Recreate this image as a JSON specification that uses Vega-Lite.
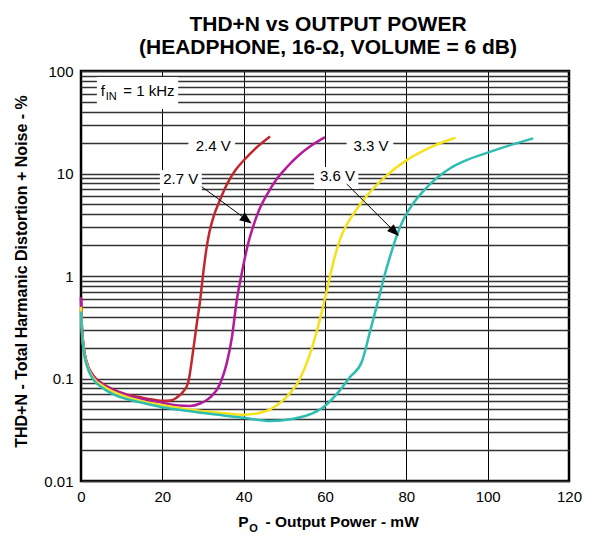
{
  "$schema": "https://vega.github.io/schema/vega-lite/v6.json",
  "width": 488,
  "height": 410,
  "autosize": {"type": "none"},
  "padding": {"left": 81, "top": 71, "right": 26, "bottom": 55},
  "background": "white",
  "config": {
    "view": {"stroke": "black", "strokeWidth": 2.5},
    "font": "Liberation Sans",
    "text": {"font": "Liberation Sans"}
  },
  "title": {
    "text": ["THD+N vs OUTPUT POWER", "(HEADPHONE, 16-Ω, VOLUME = 6 dB)"],
    "font": "Liberation Sans",
    "fontSize": 21,
    "fontWeight": "bold",
    "color": "black",
    "anchor": "middle",
    "frame": "group",
    "lineHeight": 22.7,
    "offset": 6,
    "dx": 3
  },
  "layer": [
    {
      "data": {"values": [{}]},
      "mark": {"type": "rect", "fill": "white", "stroke": null},
      "encoding": {
        "x": {"datum": 3.9, "type": "quantitative"},
        "x2": {"datum": 23.9},
        "y": {"datum": 42.6, "type": "quantitative"},
        "y2": {"datum": 87.4}
      }
    },
    {
      "data": {"values": [{}]},
      "mark": {"type": "rect", "fill": "white"},
      "encoding": {
        "x": {"datum": 26.4, "type": "quantitative"},
        "x2": {"datum": 37.9},
        "y": {"datum": 15.1, "type": "quantitative"},
        "y2": {"datum": 22.7}
      }
    },
    {
      "data": {"values": [{}]},
      "mark": {"type": "rect", "fill": "white"},
      "encoding": {
        "x": {"datum": 65.3, "type": "quantitative"},
        "x2": {"datum": 76.8},
        "y": {"datum": 15.1, "type": "quantitative"},
        "y2": {"datum": 22.7}
      }
    },
    {
      "data": {"values": [{}]},
      "mark": {"type": "rect", "fill": "white"},
      "encoding": {
        "x": {"datum": 19.4, "type": "quantitative"},
        "x2": {"datum": 29.7},
        "y": {"datum": 6.41, "type": "quantitative"},
        "y2": {"datum": 10.8}
      }
    },
    {
      "data": {"values": [{}]},
      "mark": {"type": "rect", "fill": "white"},
      "encoding": {
        "x": {"datum": 57.3, "type": "quantitative"},
        "x2": {"datum": 68.2},
        "y": {"datum": 7.06, "type": "quantitative"},
        "y2": {"datum": 11.6}
      }
    },
    {
      "data": {
        "values": [
          {"V": "2.4 V", "P": 0, "THD": 0.62}, {"V": "2.4 V", "P": 0.1, "THD": 0.42}, {"V": "2.4 V", "P": 0.6, "THD": 0.21}, {"V": "2.4 V", "P": 1.4, "THD": 0.145}, {"V": "2.4 V", "P": 3, "THD": 0.107}, {"V": "2.4 V", "P": 5.5, "THD": 0.088}, {"V": "2.4 V", "P": 8, "THD": 0.078}, {"V": "2.4 V", "P": 11.2, "THD": 0.07}, {"V": "2.4 V", "P": 15, "THD": 0.065}, {"V": "2.4 V", "P": 18, "THD": 0.062}, {"V": "2.4 V", "P": 20, "THD": 0.0605}, {"V": "2.4 V", "P": 22, "THD": 0.061}, {"V": "2.4 V", "P": 23.5, "THD": 0.065}, {"V": "2.4 V", "P": 25.2, "THD": 0.075}, {"V": "2.4 V", "P": 26.4, "THD": 0.093}, {"V": "2.4 V", "P": 27.6, "THD": 0.19}, {"V": "2.4 V", "P": 28.5, "THD": 0.35}, {"V": "2.4 V", "P": 29.3, "THD": 0.58}, {"V": "2.4 V", "P": 30.1, "THD": 1.1}, {"V": "2.4 V", "P": 30.8, "THD": 1.8}, {"V": "2.4 V", "P": 31.6, "THD": 2.7}, {"V": "2.4 V", "P": 32.6, "THD": 3.8}, {"V": "2.4 V", "P": 34, "THD": 5.3}, {"V": "2.4 V", "P": 36, "THD": 8}, {"V": "2.4 V", "P": 38, "THD": 10.8}, {"V": "2.4 V", "P": 40, "THD": 13.4}, {"V": "2.4 V", "P": 43.2, "THD": 18}, {"V": "2.4 V", "P": 46.5, "THD": 23},
          {"V": "2.7 V", "P": 0, "THD": 0.62}, {"V": "2.7 V", "P": 0.1, "THD": 0.42}, {"V": "2.7 V", "P": 0.6, "THD": 0.21}, {"V": "2.7 V", "P": 1.4, "THD": 0.143}, {"V": "2.7 V", "P": 3, "THD": 0.105}, {"V": "2.7 V", "P": 5.5, "THD": 0.087}, {"V": "2.7 V", "P": 8, "THD": 0.077}, {"V": "2.7 V", "P": 11.2, "THD": 0.069}, {"V": "2.7 V", "P": 15, "THD": 0.063}, {"V": "2.7 V", "P": 20, "THD": 0.058}, {"V": "2.7 V", "P": 24, "THD": 0.0545}, {"V": "2.7 V", "P": 26.8, "THD": 0.054}, {"V": "2.7 V", "P": 29.3, "THD": 0.057}, {"V": "2.7 V", "P": 31.7, "THD": 0.065}, {"V": "2.7 V", "P": 34.2, "THD": 0.089}, {"V": "2.7 V", "P": 35.8, "THD": 0.139}, {"V": "2.7 V", "P": 37.1, "THD": 0.25}, {"V": "2.7 V", "P": 38.3, "THD": 0.58}, {"V": "2.7 V", "P": 39.6, "THD": 1.1}, {"V": "2.7 V", "P": 41, "THD": 2.0}, {"V": "2.7 V", "P": 42.4, "THD": 3.1}, {"V": "2.7 V", "P": 44, "THD": 4.6}, {"V": "2.7 V", "P": 45.7, "THD": 6.2}, {"V": "2.7 V", "P": 48, "THD": 8.7}, {"V": "2.7 V", "P": 50.6, "THD": 11.5}, {"V": "2.7 V", "P": 53.5, "THD": 15}, {"V": "2.7 V", "P": 56.3, "THD": 18.3}, {"V": "2.7 V", "P": 60, "THD": 22.6},
          {"V": "3.3 V", "P": 0, "THD": 0.5}, {"V": "3.3 V", "P": 0.1, "THD": 0.38}, {"V": "3.3 V", "P": 0.6, "THD": 0.2}, {"V": "3.3 V", "P": 1.4, "THD": 0.14}, {"V": "3.3 V", "P": 3, "THD": 0.102}, {"V": "3.3 V", "P": 5.5, "THD": 0.084}, {"V": "3.3 V", "P": 8, "THD": 0.074}, {"V": "3.3 V", "P": 11.2, "THD": 0.066}, {"V": "3.3 V", "P": 15, "THD": 0.06}, {"V": "3.3 V", "P": 20, "THD": 0.055}, {"V": "3.3 V", "P": 25, "THD": 0.051}, {"V": "3.3 V", "P": 30, "THD": 0.048}, {"V": "3.3 V", "P": 35, "THD": 0.046}, {"V": "3.3 V", "P": 40, "THD": 0.0443}, {"V": "3.3 V", "P": 43.2, "THD": 0.0456}, {"V": "3.3 V", "P": 46.5, "THD": 0.05}, {"V": "3.3 V", "P": 49.8, "THD": 0.062}, {"V": "3.3 V", "P": 53.8, "THD": 0.099}, {"V": "3.3 V", "P": 56, "THD": 0.16}, {"V": "3.3 V", "P": 58, "THD": 0.29}, {"V": "3.3 V", "P": 59.5, "THD": 0.5}, {"V": "3.3 V", "P": 61.2, "THD": 0.98}, {"V": "3.3 V", "P": 62.5, "THD": 1.6}, {"V": "3.3 V", "P": 64, "THD": 2.45}, {"V": "3.3 V", "P": 66, "THD": 3.5}, {"V": "3.3 V", "P": 68, "THD": 4.6}, {"V": "3.3 V", "P": 70.2, "THD": 6.0}, {"V": "3.3 V", "P": 75.2, "THD": 9.6}, {"V": "3.3 V", "P": 80.1, "THD": 13.5}, {"V": "3.3 V", "P": 86.6, "THD": 18.5}, {"V": "3.3 V", "P": 92.1, "THD": 22.3},
          {"V": "3.6 V", "P": 0, "THD": 0.45}, {"V": "3.6 V", "P": 0.1, "THD": 0.35}, {"V": "3.6 V", "P": 0.6, "THD": 0.19}, {"V": "3.6 V", "P": 1.4, "THD": 0.135}, {"V": "3.6 V", "P": 3, "THD": 0.098}, {"V": "3.6 V", "P": 5.5, "THD": 0.08}, {"V": "3.6 V", "P": 8, "THD": 0.07}, {"V": "3.6 V", "P": 11.2, "THD": 0.063}, {"V": "3.6 V", "P": 15, "THD": 0.058}, {"V": "3.6 V", "P": 20, "THD": 0.0525}, {"V": "3.6 V", "P": 25, "THD": 0.049}, {"V": "3.6 V", "P": 30, "THD": 0.046}, {"V": "3.6 V", "P": 35, "THD": 0.0436}, {"V": "3.6 V", "P": 40, "THD": 0.0414}, {"V": "3.6 V", "P": 46.5, "THD": 0.0384}, {"V": "3.6 V", "P": 52.2, "THD": 0.0405}, {"V": "3.6 V", "P": 55.5, "THD": 0.0436}, {"V": "3.6 V", "P": 59.6, "THD": 0.0525}, {"V": "3.6 V", "P": 63.7, "THD": 0.077}, {"V": "3.6 V", "P": 66.1, "THD": 0.103}, {"V": "3.6 V", "P": 69, "THD": 0.144}, {"V": "3.6 V", "P": 71.1, "THD": 0.29}, {"V": "3.6 V", "P": 73.5, "THD": 0.67}, {"V": "3.6 V", "P": 74.6, "THD": 1.0}, {"V": "3.6 V", "P": 76, "THD": 1.55}, {"V": "3.6 V", "P": 77.6, "THD": 2.45}, {"V": "3.6 V", "P": 79.2, "THD": 3.5}, {"V": "3.6 V", "P": 80.9, "THD": 4.6}, {"V": "3.6 V", "P": 85, "THD": 7.3}, {"V": "3.6 V", "P": 90.7, "THD": 11.2}, {"V": "3.6 V", "P": 95, "THD": 13.6}, {"V": "3.6 V", "P": 99.8, "THD": 15.9}, {"V": "3.6 V", "P": 105, "THD": 18.6}, {"V": "3.6 V", "P": 111.2, "THD": 22}
        ]
      },
      "mark": {"type": "line", "strokeWidth": 2.5, "interpolate": "monotone"},
      "encoding": {
        "x": {
          "field": "P", "type": "quantitative",
          "scale": {"domain": [0, 120], "nice": false, "zero": false},
          "axis": {
            "values": [0, 20, 40, 60, 80, 100, 120],
            "grid": true, "gridColor": "black", "gridWidth": 1, "gridOpacity": 1,
            "ticks": false, "domain": false,
            "labelFont": "Liberation Sans", "labelFontSize": 15, "labelColor": "black", "labelPadding": 8,
            "labelFlush": false,
            "title": "- Output Power - mW",
            "titleFont": "Liberation Sans", "titleFontSize": 15.5, "titleFontWeight": "bold", "titleColor": "black",
            "titleX": 184, "titleY": 45.7, "titleAlign": "left", "titleBaseline": "alphabetic", "titleAnchor": null
          }
        },
        "y": {
          "field": "THD", "type": "quantitative",
          "scale": {"type": "log", "domain": [0.01, 100], "nice": false},
          "axis": {
            "values": [0.01, 0.02, 0.03, 0.04, 0.05, 0.06, 0.07, 0.08, 0.09, 0.1, 0.2, 0.3, 0.4, 0.5, 0.6, 0.7, 0.8, 0.9, 1, 2, 3, 4, 5, 6, 7, 8, 9, 10, 20, 30, 40, 50, 60, 70, 80, 90, 100],
            "labelExpr": "indexof(['0.01','0.1','1','10','100'], format(datum.value, '~g')) >= 0 ? format(datum.value, '~g') : ''",
            "grid": true, "gridColor": "#333333", "gridWidth": 1.3, "gridOpacity": 1,
            "ticks": false, "domain": false,
            "labelFont": "Liberation Sans", "labelFontSize": 15, "labelColor": "black", "labelPadding": 8,
            "labelFlush": false, "labelOverlap": false,
            "title": "THD+N - Total Harmanic Distortion + Noise - %",
            "titleFont": "Liberation Sans", "titleFontSize": 16, "titleFontWeight": "bold", "titleColor": "black",
            "titleX": -60, "titleY": 200, "titleAngle": 270, "titleAlign": "center", "titleBaseline": "middle"
          }
        },
        "color": {
          "field": "V", "type": "nominal",
          "scale": {"domain": ["2.4 V", "2.7 V", "3.3 V", "3.6 V"], "range": ["#c1272d", "#b31b9c", "#f5e21b", "#2dbdb2"]},
          "legend": null
        },
        "detail": {"field": "V"}
      }
    },
    {
      "data": {"values": [{}]},
      "mark": {"type": "rule", "color": "black", "strokeWidth": 1},
      "encoding": {
        "x": {"datum": 29.68, "type": "quantitative"},
        "y": {"datum": 7.43, "type": "quantitative"},
        "x2": {"datum": 40.78},
        "y2": {"datum": 3.53}
      }
    },
    {
      "data": {"values": [{}]},
      "mark": {"type": "point", "shape": "M-1,-0.8L1,0L-1,0.8Z", "size": 144, "filled": true, "color": "black", "opacity": 1, "angle": 36.2},
      "encoding": {
        "x": {"datum": 40.78, "type": "quantitative"},
        "y": {"datum": 3.53, "type": "quantitative"}
      }
    },
    {
      "data": {"values": [{}]},
      "mark": {"type": "rule", "color": "black", "strokeWidth": 1},
      "encoding": {
        "x": {"datum": 65.33, "type": "quantitative"},
        "y": {"datum": 7.9, "type": "quantitative"},
        "x2": {"datum": 77.14},
        "y2": {"datum": 2.7}
      }
    },
    {
      "data": {"values": [{}]},
      "mark": {"type": "point", "shape": "M-1,-0.8L1,0L-1,0.8Z", "size": 144, "filled": true, "color": "black", "opacity": 1, "angle": 44.8},
      "encoding": {
        "x": {"datum": 77.14, "type": "quantitative"},
        "y": {"datum": 2.7, "type": "quantitative"}
      }
    },
    {
      "data": {"values": [{}]},
      "mark": {"type": "text", "text": "2.4 V", "fontSize": 15, "align": "center", "baseline": "middle", "color": "black"},
      "encoding": {"x": {"datum": 32.5, "type": "quantitative"}, "y": {"datum": 18.55, "type": "quantitative"}}
    },
    {
      "data": {"values": [{}]},
      "mark": {"type": "text", "text": "3.3 V", "fontSize": 15, "align": "center", "baseline": "middle", "color": "black"},
      "encoding": {"x": {"datum": 71.3, "type": "quantitative"}, "y": {"datum": 18.55, "type": "quantitative"}}
    },
    {
      "data": {"values": [{}]},
      "mark": {"type": "text", "text": "2.7 V", "fontSize": 15, "align": "center", "baseline": "middle", "color": "black"},
      "encoding": {"x": {"datum": 24.54, "type": "quantitative"}, "y": {"datum": 8.79, "type": "quantitative"}}
    },
    {
      "data": {"values": [{}]},
      "mark": {"type": "text", "text": "3.6 V", "fontSize": 15, "align": "center", "baseline": "middle", "color": "black"},
      "encoding": {"x": {"datum": 63.07, "type": "quantitative"}, "y": {"datum": 9.46, "type": "quantitative"}}
    },
    {
      "data": {"values": [{}]},
      "mark": {"type": "text", "text": "f", "fontSize": 15, "align": "left", "baseline": "alphabetic", "color": "black"},
      "encoding": {"x": {"datum": 4.84, "type": "quantitative"}, "y": {"datum": 57.0, "type": "quantitative"}}
    },
    {
      "data": {"values": [{}]},
      "mark": {"type": "text", "text": "IN", "fontSize": 11, "align": "left", "baseline": "alphabetic", "color": "black"},
      "encoding": {"x": {"datum": 6.07, "type": "quantitative"}, "y": {"datum": 52.1, "type": "quantitative"}}
    },
    {
      "data": {"values": [{}]},
      "mark": {"type": "text", "text": "= 1 kHz", "fontSize": 15, "align": "left", "baseline": "alphabetic", "color": "black"},
      "encoding": {"x": {"datum": 10.4, "type": "quantitative"}, "y": {"datum": 57.0, "type": "quantitative"}}
    },
    {
      "data": {"values": [{}]},
      "mark": {"type": "text", "text": "P", "fontSize": 15.5, "fontWeight": "bold", "align": "left", "baseline": "alphabetic", "color": "black"},
      "encoding": {"x": {"datum": 38.68, "type": "quantitative"}, "y": {"datum": 0.00358, "type": "quantitative"}}
    },
    {
      "data": {"values": [{}]},
      "mark": {"type": "text", "text": "O", "fontSize": 11, "fontWeight": "bold", "align": "left", "baseline": "alphabetic", "color": "black"},
      "encoding": {"x": {"datum": 41.39, "type": "quantitative"}, "y": {"datum": 0.0032, "type": "quantitative"}}
    }
  ]
}
